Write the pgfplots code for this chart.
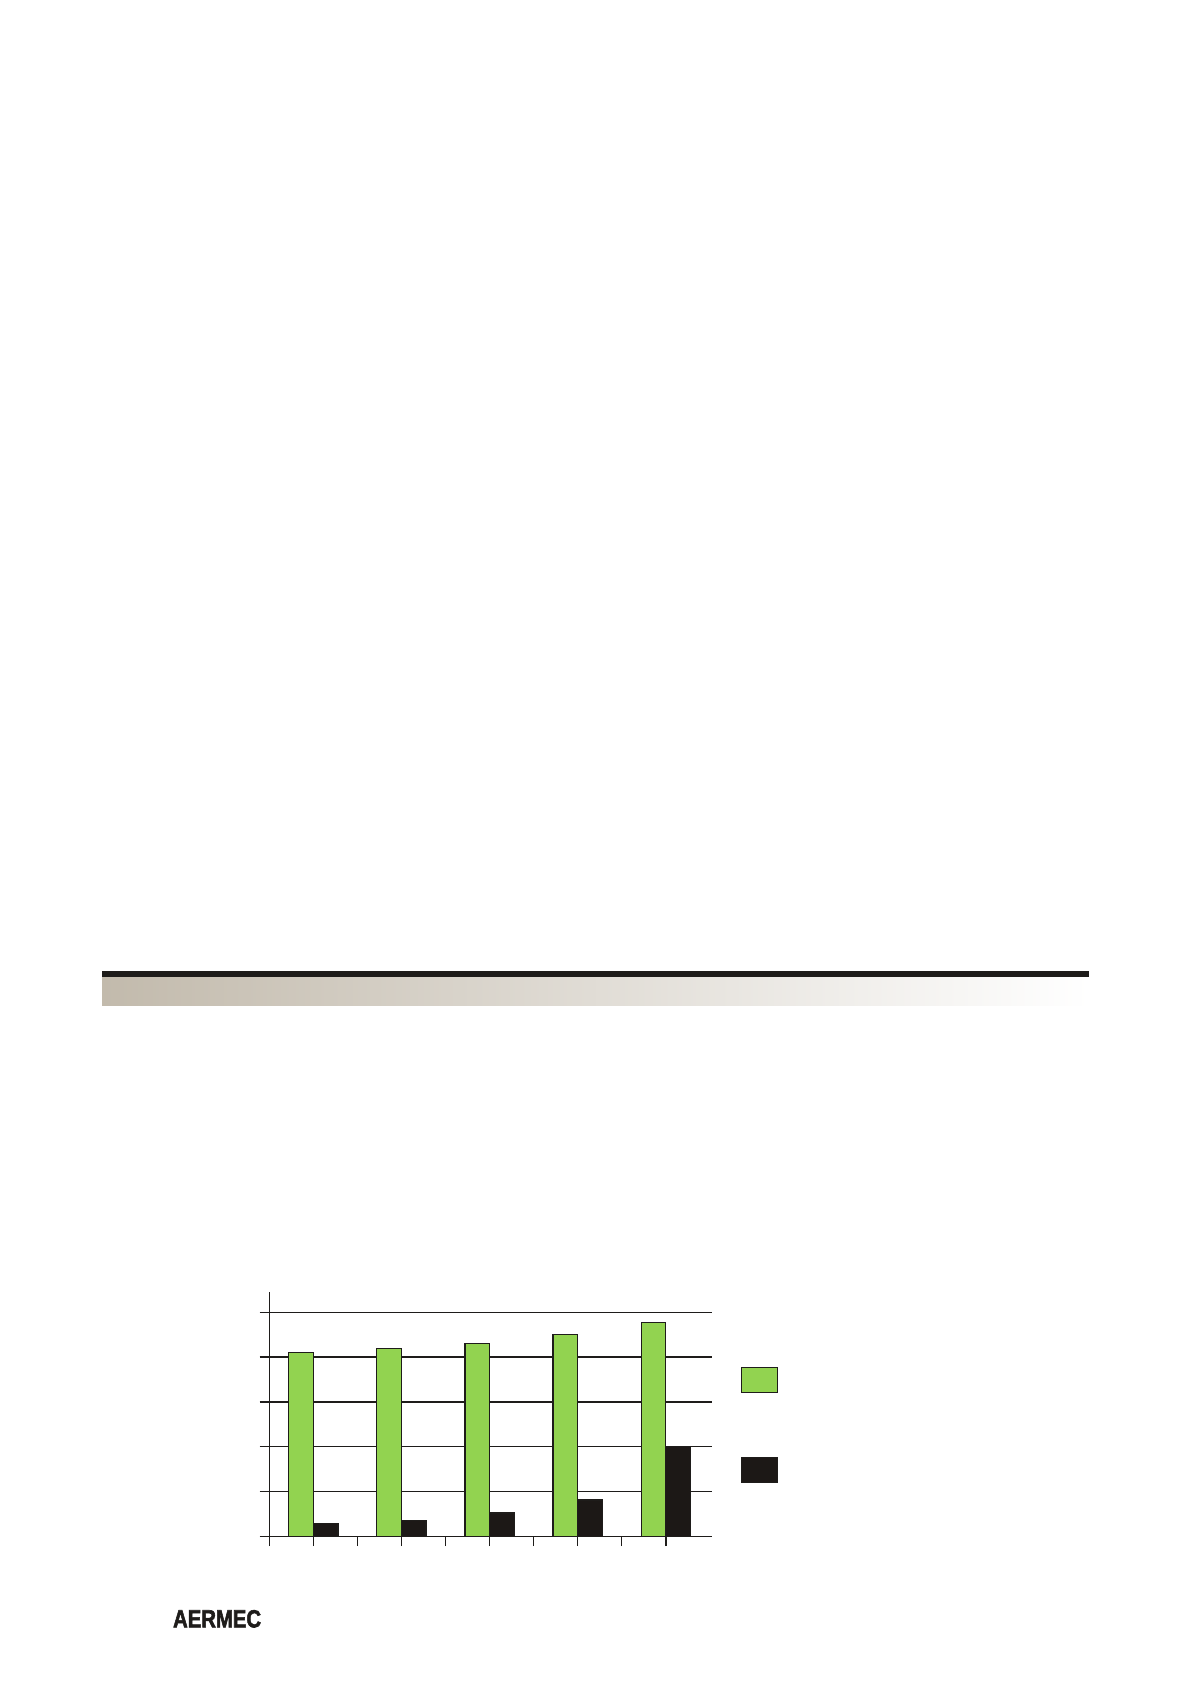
\documentclass[border=0pt]{standalone}
\usepackage{pgfplots}
\pgfplotsset{compat=1.18}
\usepackage{fontspec}
\setmainfont{Liberation Sans}
\newfontfamily\logofont[FakeBold=2.5]{Liberation Sans Bold}
\definecolor{barGreen}{RGB}{146,211,80}
\definecolor{barBlack}{RGB}{28,24,22}
\definecolor{lineDark}{RGB}{30,28,26}
\definecolor{bandLeft}{RGB}{194,186,172}
\definecolor{bandMid}{RGB}{228,223,214}
\begin{document}
\begin{tikzpicture}[x=1pt,y=1pt]
\useasboundingbox (0,0) rectangle (595,842);
\fill[white] (0,0) rectangle (595,842);
% header band
\shade[left color=bandLeft, middle color=bandMid, right color=white] (51,339.15) rectangle (544.5,353.5);
\fill[lineDark] (51,353.5) rectangle (544.5,356.5);
\begin{axis}[
  at={(134.65pt,73.85pt)}, anchor=south west,
  scale only axis, width=221.5pt, height=122pt,
  xmin=-0.5, xmax=4.528, ymin=0, ymax=5.446,
  axis x line=bottom, axis y line=left,
  axis line style={-, line width=0.75pt, lineDark},
  xtick={-0.5,0,...,4}, ytick={0,1,...,5},
  xticklabels={}, yticklabels={},
  tick align=outside, major tick length=4.9pt,
  tick style={line width=0.75pt, lineDark},
  ymajorgrids, grid style={line width=0.75pt, lineDark},
  clip=false,
]
\addplot[ybar, bar width=12.3pt, bar shift=-6.15pt, fill=barGreen, draw=lineDark, line width=0.6pt]
  coordinates {(0,4.11) (1,4.20) (2,4.31) (3,4.51) (4,4.78)};
\addplot[ybar, bar width=12.3pt, bar shift=6.15pt, fill=barBlack, draw=lineDark, line width=0.6pt]
  coordinates {(0,0.29) (1,0.35) (2,0.52) (3,0.81) (4,2.0)};
\end{axis}
% legend swatches
\filldraw[fill=barGreen, draw=lineDark, line width=0.6pt] (370.65,145.85) rectangle (388.85,158.35);
\filldraw[fill=barBlack, draw=lineDark, line width=0.6pt] (370.65,100.65) rectangle (388.85,113.35);
% logo
\node[anchor=south west, inner sep=0pt, text=lineDark] at (86.35,28) {\resizebox{44pt}{8.65pt}{\logofont AERMEC}};
\end{tikzpicture}
\end{document}
